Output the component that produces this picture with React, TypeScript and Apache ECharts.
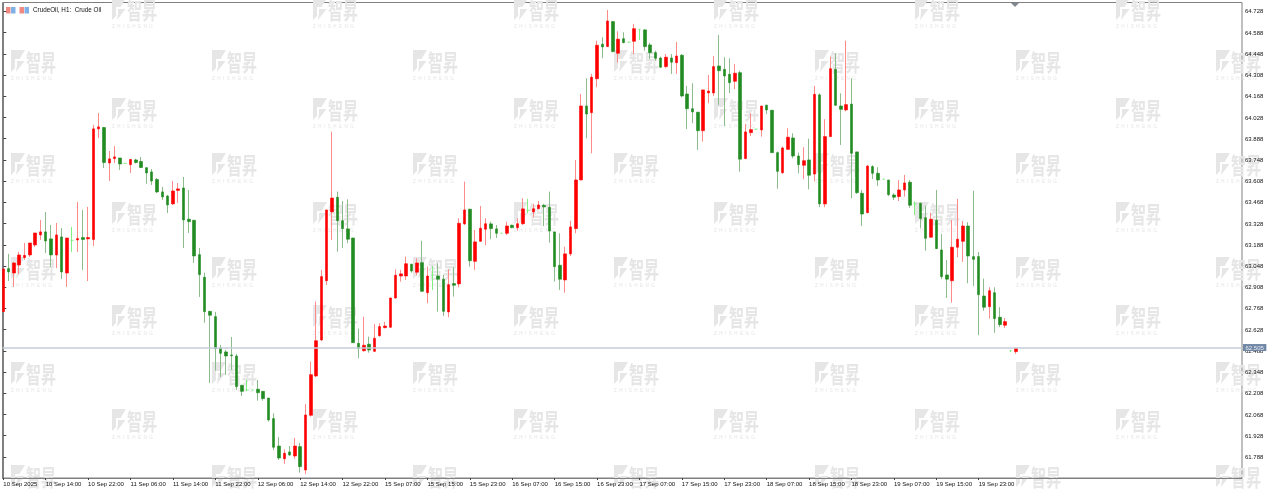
import React, { useEffect, useRef } from "react";
import * as echarts from "echarts";

const priceLabels = [64.728, 64.588, 64.448, 64.308, 64.168, 64.028, 63.888, 63.748, 63.608, 63.468, 63.328, 63.188, 63.048, 62.908, 62.768, 62.628, 62.488, 62.348, 62.208, 62.068, 61.928, 61.788];
const timeLabels = ["10 Sep 2025", "10 Sep 14:00", "10 Sep 22:00", "11 Sep 06:00", "11 Sep 14:00", "11 Sep 22:00", "12 Sep 06:00", "12 Sep 14:00", "12 Sep 22:00", "15 Sep 07:00", "15 Sep 15:00", "15 Sep 23:00", "16 Sep 07:00", "16 Sep 15:00", "16 Sep 23:00", "17 Sep 07:00", "17 Sep 15:00", "17 Sep 23:00", "18 Sep 07:00", "18 Sep 15:00", "18 Sep 23:00", "19 Sep 07:00", "19 Sep 15:00", "19 Sep 23:00"];
const currentPrice = 62.505;

const opens = [
  62.747, 63.031, 63.002, 63.055, 63.104, 63.121, 63.187, 63.253, 63.273, 63.227,
  63.121, 63.240, 63.002, 63.217, 63.220, 63.236, 63.227, 63.223, 63.953, 63.962,
  63.728, 63.757, 63.761, 63.725, 63.717, 63.748, 63.738, 63.697, 63.669, 63.619,
  63.537, 63.510, 63.458, 63.547, 63.563, 63.357, 63.350, 63.123, 62.974, 62.749,
  62.714, 62.507, 62.481, 62.461, 62.454, 62.261, 62.230, 62.230, 62.235, 62.221,
  62.177, 62.041, 61.860, 61.776, 61.821, 61.794, 61.856, 61.702, 62.063, 62.322,
  62.560, 62.951, 63.405, 63.502, 63.347, 63.293, 63.233, 62.538, 62.489, 62.532,
  62.485, 62.588, 62.641, 62.644, 62.837, 62.982, 62.982, 63.060, 63.007, 63.070,
  62.872, 62.987, 62.982, 62.961, 62.745, 62.932, 62.930, 63.326, 63.423, 63.079,
  63.211, 63.291, 63.326, 63.293, 63.264, 63.264, 63.317, 63.301, 63.327, 63.416,
  63.405, 63.426, 63.449, 63.436, 63.273, 63.053, 62.956, 63.128, 63.295, 63.616,
  64.104, 64.060, 64.284, 64.512, 64.496, 64.661, 64.452, 64.548, 64.525, 64.531,
  64.610, 64.606, 64.507, 64.456, 64.421, 64.364, 64.421, 64.390, 64.439, 64.183,
  64.086, 64.063, 63.941, 64.190, 64.190, 64.368, 64.346, 64.314, 64.267, 64.324,
  63.757, 63.928, 63.951, 63.946, 64.109, 64.076, 63.796, 63.664, 63.818, 63.893,
  63.774, 63.713, 63.748, 63.655, 64.177, 63.458, 63.902, 64.346, 64.104, 64.078,
  64.117, 63.801, 63.528, 63.400, 63.704, 63.660, 63.621, 63.616, 63.517, 63.506,
  63.550, 63.601, 63.458, 63.462, 63.367, 63.238, 63.350, 63.154, 62.989, 62.951,
  63.172, 63.211, 63.312, 63.110, 63.110, 62.850, 62.780, 62.872, 62.710, 62.657,
  62.489, 62.483,
];
const closes = [
  63.029, 63.009, 63.068, 63.121, 63.118, 63.200, 63.266, 63.273, 63.213, 63.121,
  63.253, 63.009, 63.233, 63.217, 63.229, 63.223, 63.236, 63.953, 63.966, 63.731,
  63.755, 63.768, 63.721, 63.725, 63.751, 63.731, 63.698, 63.662, 63.609, 63.537,
  63.504, 63.451, 63.543, 63.557, 63.352, 63.341, 63.114, 62.991, 62.747, 62.723,
  62.503, 62.472, 62.454, 62.456, 62.252, 62.221, 62.230, 62.230, 62.212, 62.173,
  62.032, 61.852, 61.781, 61.812, 61.801, 61.860, 61.724, 62.065, 62.331, 62.555,
  62.978, 63.418, 63.497, 63.347, 63.295, 63.225, 62.542, 62.505, 62.525, 62.494,
  62.571, 62.648, 62.652, 62.837, 62.987, 62.996, 63.063, 63.015, 63.068, 62.881,
  62.982, 62.987, 62.961, 62.749, 62.925, 62.921, 63.330, 63.418, 63.083, 63.207,
  63.297, 63.327, 63.295, 63.264, 63.264, 63.312, 63.301, 63.327, 63.425, 63.416,
  63.426, 63.451, 63.438, 63.279, 63.044, 62.961, 63.128, 63.306, 63.616, 64.104,
  64.051, 64.294, 64.505, 64.494, 64.665, 64.463, 64.545, 64.522, 64.525, 64.614,
  64.610, 64.496, 64.456, 64.419, 64.360, 64.426, 64.393, 64.434, 64.170, 64.086,
  64.065, 63.941, 64.210, 64.203, 64.364, 64.337, 64.302, 64.258, 64.320, 63.753,
  63.933, 63.948, 63.951, 64.104, 64.078, 63.796, 63.673, 63.827, 63.898, 63.774,
  63.717, 63.743, 63.647, 64.181, 63.458, 63.902, 64.350, 64.109, 64.082, 64.113,
  63.792, 63.532, 63.391, 63.708, 63.660, 63.616, 63.621, 63.519, 63.502, 63.550,
  63.596, 63.449, 63.458, 63.361, 63.231, 63.357, 63.163, 62.978, 62.961, 63.172,
  63.225, 63.312, 63.114, 63.092, 62.859, 62.776, 62.885, 62.701, 62.661, 62.681,
  62.489, 62.505,
];
const lows = [
  62.745, 62.949, 62.910, 62.996, 63.088, 63.108, 63.174, 63.220, 63.134, 63.042,
  63.035, 62.963, 62.910, 63.141, 63.141, 63.022, 62.949, 63.180, 63.893, 63.695,
  63.609, 63.728, 63.682, 63.722, 63.662, 63.725, 63.695, 63.590, 63.583, 63.530,
  63.484, 63.398, 63.451, 63.464, 63.167, 63.266, 63.068, 62.844, 62.674, 62.276,
  62.357, 62.316, 62.329, 62.362, 62.230, 62.190, 62.223, 62.227, 62.159, 62.159,
  62.021, 61.834, 61.768, 61.742, 61.794, 61.776, 61.684, 61.676, 62.054, 62.316,
  62.553, 62.923, 63.220, 63.143, 63.167, 63.198, 62.540, 62.439, 62.483, 62.476,
  62.481, 62.582, 62.637, 62.639, 62.833, 62.945, 62.956, 63.004, 62.987, 62.880,
  62.802, 62.890, 62.747, 62.718, 62.710, 62.846, 62.908, 63.319, 63.044, 63.022,
  63.209, 63.185, 63.225, 63.233, 63.262, 63.253, 63.297, 63.281, 63.319, 63.396,
  63.370, 63.423, 63.312, 63.202, 62.945, 62.890, 62.872, 63.114, 63.264, 63.614,
  63.891, 63.792, 64.228, 64.419, 64.494, 64.459, 64.390, 64.518, 64.523, 64.447,
  64.540, 64.469, 64.413, 64.403, 64.355, 64.353, 64.316, 64.316, 64.162, 63.951,
  63.990, 63.814, 63.869, 64.122, 64.170, 64.111, 63.972, 64.188, 64.215, 63.671,
  63.753, 63.906, 63.949, 63.902, 64.051, 63.794, 63.558, 63.655, 63.814, 63.759,
  63.660, 63.621, 63.554, 63.607, 63.436, 63.436, 63.900, 64.104, 63.847, 64.069,
  63.495, 63.524, 63.312, 63.396, 63.622, 63.576, 63.619, 63.510, 63.484, 63.477,
  63.506, 63.431, 63.385, 63.297, 63.149, 63.233, 63.159, 62.961, 62.837, 62.806,
  63.106, 63.075, 62.934, 62.916, 62.591, 62.753, 62.701, 62.608, 62.644, 62.639,
  62.480, 62.468,
];
const highs = [
  63.029, 63.128, 63.075, 63.141, 63.200, 63.200, 63.266, 63.352, 63.405, 63.319,
  63.332, 63.299, 63.233, 63.306, 63.471, 63.418, 63.438, 63.979, 64.058, 63.966,
  63.807, 63.840, 63.761, 63.728, 63.755, 63.757, 63.768, 63.698, 63.688, 63.629,
  63.570, 63.517, 63.609, 63.596, 63.636, 63.550, 63.352, 63.167, 63.004, 62.751,
  62.745, 62.527, 62.494, 62.580, 62.468, 62.263, 62.296, 62.230, 62.296, 62.223,
  62.177, 62.076, 61.920, 61.838, 61.860, 61.913, 61.880, 62.138, 62.417, 62.813,
  63.022, 63.418, 63.935, 63.539, 63.477, 63.488, 63.233, 62.635, 62.714, 62.582,
  62.666, 62.670, 62.680, 62.837, 63.026, 63.022, 63.110, 63.062, 63.099, 63.215,
  63.044, 63.048, 63.066, 62.989, 63.026, 63.040, 63.363, 63.605, 63.425, 63.286,
  63.444, 63.363, 63.341, 63.319, 63.266, 63.339, 63.321, 63.363, 63.495, 63.491,
  63.458, 63.477, 63.458, 63.539, 63.273, 63.264, 63.176, 63.347, 63.748, 64.183,
  64.287, 64.316, 64.535, 64.558, 64.738, 64.665, 64.597, 64.591, 64.527, 64.646,
  64.612, 64.610, 64.522, 64.469, 64.430, 64.447, 64.447, 64.527, 64.447, 64.236,
  64.254, 64.065, 64.210, 64.309, 64.434, 64.573, 64.426, 64.419, 64.381, 64.337,
  63.985, 64.056, 63.953, 64.104, 64.113, 64.078, 63.803, 63.836, 63.957, 63.924,
  63.796, 63.832, 63.888, 64.236, 64.188, 64.017, 64.430, 64.452, 64.188, 64.535,
  64.287, 63.801, 63.550, 63.715, 63.713, 63.700, 63.623, 63.616, 63.528, 63.616,
  63.649, 63.616, 63.475, 63.466, 63.446, 63.400, 63.550, 63.260, 63.088, 63.352,
  63.491, 63.345, 63.337, 63.545, 63.141, 62.965, 62.908, 62.908, 62.776, 62.705,
  62.494, 62.505,
];

const UP = "#ff0000";
const DOWN = "#228b22";
const UP_WICK = "#ff8a8a";
const DOWN_WICK = "#8cbc8c";
const DOJI = "#80f080";
const MARK = "#e6e6e6";
const TEXT = "#111111";

const logoTop = [[0, 0], [14, 0], [8.5, 9], [4, 9], [4, 18], [0, 22]];
const logoBottom = [[6, 11], [13.5, 11], [5, 22], [6, 15]];

const watermark = (x: number, y: number, withCaption: boolean) => ({
  type: "group",
  x,
  y,
  silent: true,
  children: [
    { type: "polygon", shape: { points: logoTop }, style: { fill: MARK } },
    { type: "polygon", shape: { points: logoBottom }, style: { fill: MARK } },
    { type: "text", x: 15, y: -1, scaleY: 1.55, style: { text: "智昇", fill: MARK, font: "700 15px 'Noto Sans CJK SC'" } },
    ...(withCaption
      ? [{ type: "text", x: 0, y: 26, style: { text: "Z  H  I  S  H  E  N  G", fill: "#e4e4e4", font: "4.5px 'Liberation Sans'" } }]
      : []),
  ],
});

const watermarks: any[] = [];
[50, 153, 257, 362, 465].forEach((y) => [11, 212, 413, 614, 815, 1016, 1216].forEach((x) => watermarks.push(watermark(x, y, y < 460))));
[-2, 98, 202, 305, 409].forEach((y) => [112, 313, 514, 714, 915, 1116].forEach((x) => watermarks.push(watermark(x, y, true))));

const headerIcons = [
  { type: "rect", shape: { x: 6, y: 7, width: 4.5, height: 6.5 }, style: { fill: "#f08a80" } },
  { type: "rect", shape: { x: 11, y: 7, width: 4.5, height: 6.5 }, style: { fill: "#7fb0e6" } },
  { type: "rect", shape: { x: 19.5, y: 7, width: 4.5, height: 6.5 }, style: { fill: "#f08a80" } },
  { type: "rect", shape: { x: 24.5, y: 7, width: 4.5, height: 6.5 }, style: { fill: "#7fb0e6" } },
];

export default function App() {
  const ref = useRef<HTMLDivElement>(null);
  useEffect(() => {
    document.body.style.margin = "0";
    document.body.style.background = "#fff";
    const chart = echarts.init(ref.current!, undefined, { renderer: "svg" });
    const dojiStyle = { color: DOJI, color0: DOJI, borderColor: DOJI, borderColor0: DOJI, borderColorDoji: DOJI };
    const wickData = opens.map((o, i) => ({
      value: [i, o, closes[i], lows[i], highs[i]],
      itemStyle: o === closes[i] ? dojiStyle : undefined,
    }));
    const bodyData = opens.map((o, i) => ({
      value: [i, o, closes[i], Math.min(o, closes[i]), Math.max(o, closes[i])],
      itemStyle: o === closes[i] ? dojiStyle : undefined,
    }));
    chart.setOption({
      animation: false,
      backgroundColor: "#ffffff",
      grid: { left: 2.5, right: 26, top: 2.5, bottom: 13, show: true, borderColor: "#808080", borderWidth: 1, backgroundColor: "transparent" },
      xAxis: {
        type: "value",
        min: -0.15,
        max: 233.66,
        splitLine: { show: false },
        axisLine: { show: true, lineStyle: { color: "#808080" } },
        axisTick: { show: true, length: 2, lineStyle: { color: "#444" }, customValues: timeLabels.map((_, i) => i * 8) },
        axisLabel: {
          customValues: timeLabels.map((_, i) => i * 8),
          formatter: (v: number) => timeLabels[Math.round(v / 8)],
          align: "left",
          margin: 3,
          fontSize: 6,
          color: TEXT,
          fontFamily: "Liberation Sans",
        },
      },
      yAxis: {
        type: "value",
        position: "right",
        min: 61.649,
        max: 64.787,
        splitLine: { show: false },
        axisLine: { show: true, lineStyle: { color: "#808080" } },
        axisTick: { show: true, length: 3, lineStyle: { color: "#444" }, customValues: priceLabels },
        axisLabel: {
          customValues: priceLabels,
          formatter: (v: number) => v.toFixed(3),
          margin: 3,
          fontSize: 6,
          color: TEXT,
          fontFamily: "Liberation Sans",
        },
      },
      graphic: [
        ...watermarks,
        ...headerIcons,
        { type: "text", x: 33, y: 6.5, style: { text: "CrudeOil, H1:  Crude Oil", fill: TEXT, font: "6.3px 'Liberation Sans'" } },
        { type: "polygon", shape: { points: [[1011, 3], [1019, 3], [1015, 7]] }, style: { fill: "#808890" } },
      ],
      series: [
        {
          type: "candlestick",
          name: "CrudeOil wicks",
          clip: false,
          barWidth: 1,
          encode: { x: 0, y: [1, 2, 3, 4] },
          data: wickData,
          itemStyle: { color: UP_WICK, color0: DOWN_WICK, borderColor: UP_WICK, borderColor0: DOWN_WICK, borderWidth: 1 },
          markLine: {
            silent: true,
            symbol: "none",
            animation: false,
            lineStyle: { color: "#c4ccd8", width: 1.5, type: "solid" },
            data: [{ yAxis: currentPrice }],
            label: {
              show: true,
              position: "end",
              distance: 1,
              formatter: currentPrice.toFixed(3),
              backgroundColor: "#7187a6",
              color: "#e8edf4",
              fontSize: 6,
              fontFamily: "Liberation Sans",
              padding: [0.5, 2.5],
            },
          },
        },
        {
          type: "candlestick",
          name: "CrudeOil H1",
          clip: false,
          barWidth: 3,
          encode: { x: 0, y: [1, 2, 3, 4] },
          data: bodyData,
          itemStyle: { color: UP, color0: DOWN, borderColor: UP, borderColor0: DOWN, borderWidth: 0.6 },
        },
      ],
    });
    return () => chart.dispose();
  }, []);
  return <div ref={ref} style={{ width: 1268, height: 491, filter: "blur(0.4px)" }} />;
}
